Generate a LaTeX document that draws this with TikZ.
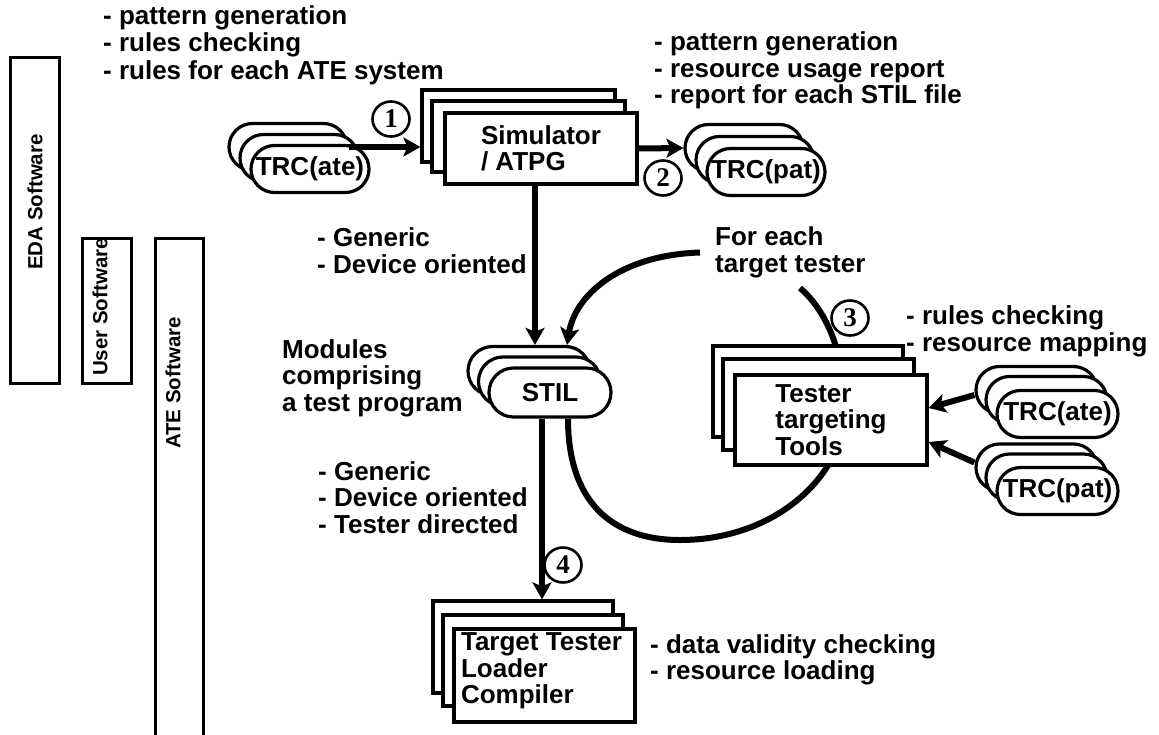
\documentclass[tikz,border=0pt]{standalone}
\usepackage{fontspec}
\setmainfont{Liberation Sans}
\newfontfamily\numfont{Liberation Serif}
\usetikzlibrary{arrows.meta,calc,shapes.geometric}

\tikzset{
  lbl/.style={font=\fontsize{26}{26.5}\selectfont\bfseries, inner sep=0pt, align=left, anchor=west},
  barbox/.style={draw, line width=3pt},
  barlbl/.style={font=\fontsize{20.5}{20.5}\selectfont\bfseries, rotate=90, inner sep=0pt},
  card/.style={draw, fill=white, line width=3.2pt, inner sep=0pt, align=left,
    font=\fontsize{26}{26.5}\selectfont\bfseries},
  pill/.style={draw, fill=white, line width=3.2pt, inner sep=0pt,
    font=\fontsize{26}{26}\selectfont\bfseries},
  trc/.style={pill, rounded corners=23.5pt, minimum width=118pt, minimum height=47pt},
  num/.style={draw, ellipse, line width=2.6pt, minimum width=37pt, minimum height=35pt, inner sep=0pt,
    font=\numfont\bfseries\fontsize{27}{27}\selectfont},
  flow/.style={line width=6pt, -{Stealth[length=17pt,width=19pt,inset=4pt]}},
  loopline/.style={line width=6pt},
}

\begin{document}
\begin{tikzpicture}[x=1pt,y=-1pt]
\useasboundingbox (0,0) rectangle (1159,734);
\clip (0,0) rectangle (1159,734);

% software domains
\draw[barbox] (10,57) rectangle (59,383);
\node[barlbl] (eda) at (35,202) {EDA Software};
\draw[barbox] (82,238) rectangle (131,383);
\node[barlbl] (usr) at (100,307) {User Software};
\draw[barbox] (155,238) rectangle (203,760);
\node[barlbl] (ate) at (173,383) {ATE Software};

% notes
\node[lbl, font=\fontsize{26}{27.5}\selectfont\bfseries] (edanotes) at (103,45)
  {- pattern generation\\- rules checking\\- rules for each ATE system};
\node[lbl] (patnotes) at (654,70.5)
  {- pattern generation\\- resource usage report\\- report for each STIL file};
\node[lbl] (gen1) at (317,250.5) {- Generic\\- Device oriented};
\node[lbl] (modules) at (282,378) {Modules\\comprising\\a test program};
\node[lbl] (fe) at (715,252.5) {For each\\target tester};
\node[lbl] (mapnotes) at (906,331.5) {- rules checking\\- resource mapping};
\node[lbl] (gen2) at (318,497.5) {- Generic\\- Device oriented\\- Tester directed};
\node[lbl] (loadnotes) at (650,660) {- data validity checking\\- resource loading};

% rules file feeding the simulator
\node[trc] (ta1) at (288,147) {};
\node[trc] (ta2) at (299,158) {};
\node[trc] (ta3) at (310,169) {TRC(ate)};

% simulator / ATPG
\node[card, minimum width=193pt, minimum height=72pt] (sim1) at (518.5,126) {};
\node[card, minimum width=193pt, minimum height=71pt] (sim2) at (528.5,136.5) {};
\node[card, minimum width=192pt, minimum height=71pt] (sim3) at (541,148.5) {Simulator\\/ ATPG};

% pattern report
\node[trc] (tp1) at (744,148) {};
\node[trc] (tp2) at (755,160) {};
\node[trc] (tp3) at (766,172) {TRC(pat)};

% STIL modules
\node[pill, rounded corners=24.5pt, minimum width=122pt, minimum height=49pt] (st1) at (529,371) {};
\node[pill, rounded corners=24.5pt, minimum width=122pt, minimum height=49pt] (st2) at (539.5,381.5) {};
\node[pill, rounded corners=24.5pt, minimum width=122pt, minimum height=49pt] (st3) at (550,392.5) {STIL};

% per-tester loop
\coordinate (loopend) at (800,288);
\draw[loopline] ([xshift=18pt]st3.south) .. controls (568,500) and (610,540) .. (680,540)
  .. controls (780,540) and (850,470) .. (845,400)
  .. controls (842,340) and (820,305) .. (loopend);

% tester targeting tools
\node[card, minimum width=190pt, minimum height=91pt] (tt1) at (808,391.5) {};
\node[card, minimum width=191pt, minimum height=91pt] (tt2) at (818.5,404.5) {};
\node[card, minimum width=192pt, minimum height=90pt] (tt3) at (831,420) {Tester\\targeting\\Tools};

% tester rules files
\node[trc, minimum width=121pt] (ra1) at (1036.5,390) {};
\node[trc, minimum width=121pt] (ra2) at (1046.5,400) {};
\node[trc, minimum width=121pt] (ra3) at (1057.5,414) {TRC(ate)};
\node[trc, minimum width=121pt] (rp1) at (1036.5,467.5) {};
\node[trc, minimum width=121pt] (rp2) at (1046.5,477.5) {};
\node[trc, minimum width=121pt] (rp3) at (1057.5,491) {TRC(pat)};

% target tester loader / compiler
\node[card, minimum width=180pt, minimum height=92pt] (tl1) at (523,647) {};
\node[card, minimum width=180pt, minimum height=91pt] (tl2) at (533,660.5) {};
\node[card, minimum width=181pt, minimum height=93pt] (tl3) at (544.5,675.5) {};
\node[lbl, anchor=center] (tltext) at (541.5,671) {Target Tester\\Loader\\Compiler};

% flow arrows
\draw[flow] (ta1.east) -- (ta1.east -| sim1.west);
\draw[flow] (sim3.east) -- (tp1.west);
\draw[flow] ([xshift=-6pt]sim3.south) -- ([xshift=-6pt]sim3.south |- st1.north);
\draw[flow] ([xshift=-15pt]fe.west) .. controls (620,255) and (575,295) .. ([xshift=38pt]st1.north);
\draw[flow] ([xshift=-8pt]st3.south) -- ([xshift=-8pt]st3.south |- tl1.north);
\draw[flow] ([yshift=-5pt]ra1.west) -- ([yshift=12pt]tt3.east);
\draw[flow] ([yshift=5pt]rp1.west) -- ([yshift=-22pt]tt3.east);

% step numbers
\node[num] (n1) at (391,119) {1};
\node[num] (n2) at (663,178) {2};
\node[num] (n3) at (850,318) {3};
\node[num] (n4) at (563,565) {4};
\end{tikzpicture}
\end{document}
